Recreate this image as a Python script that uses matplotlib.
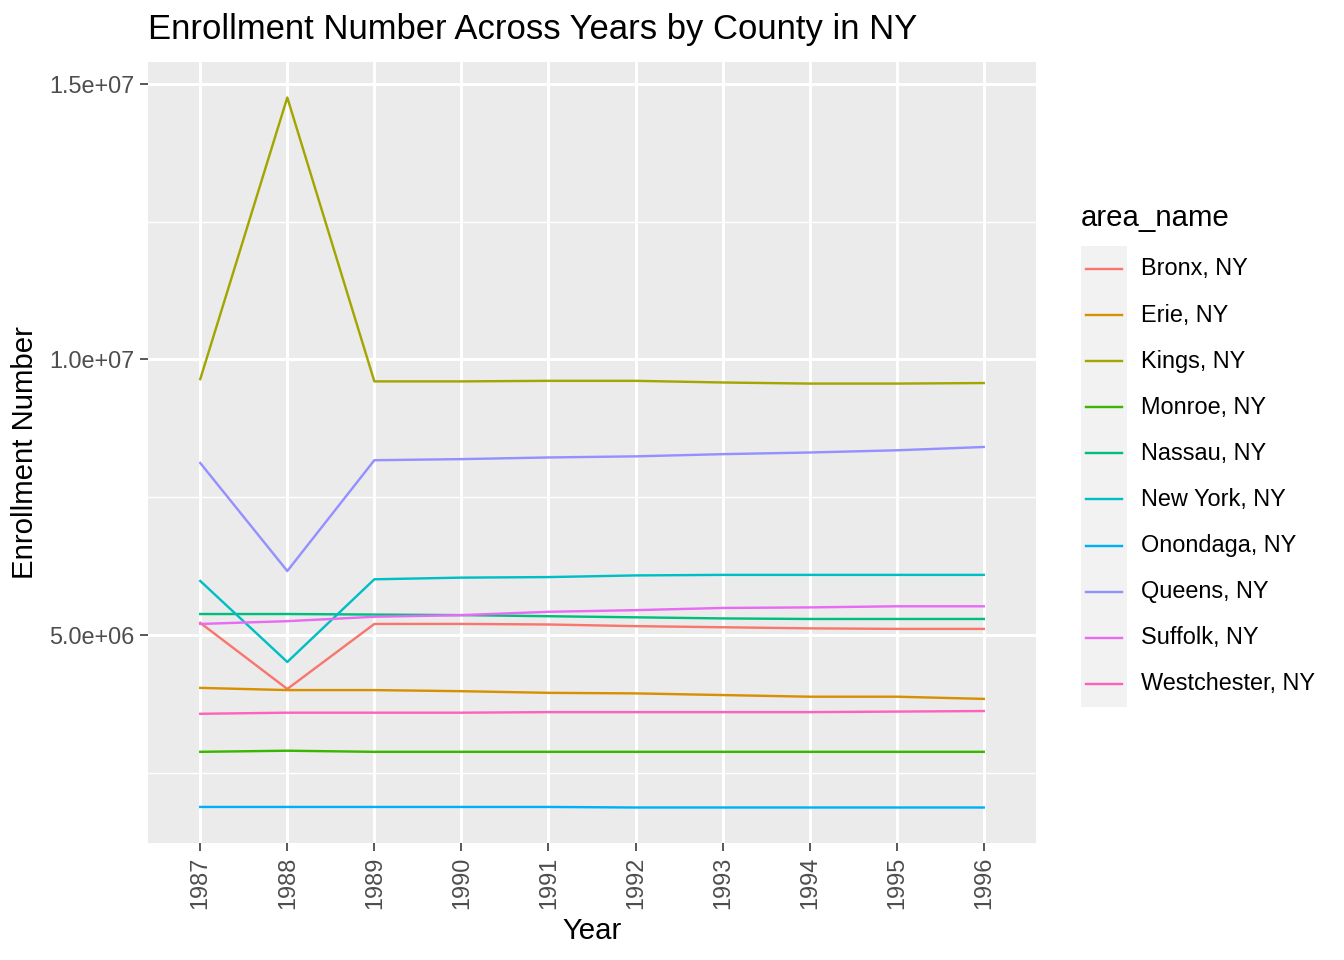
import matplotlib.pyplot as plt
from matplotlib.patches import Rectangle
from matplotlib.lines import Line2D
from matplotlib.ticker import FixedLocator

plt.rcParams['font.family'] = ['Liberation Sans', 'DejaVu Sans']

years = list(range(1987, 1997))
counties = ["Bronx, NY", "Erie, NY", "Kings, NY", "Monroe, NY", "Nassau, NY",
            "New York, NY", "Onondaga, NY", "Queens, NY", "Suffolk, NY", "Westchester, NY"]
colors = ["#F8766D", "#D89000", "#A3A500", "#39B600", "#00BF7D",
          "#00BFC4", "#00B0F6", "#9590FF", "#E76BF3", "#FF62BC"]

bronx = [5.22e6, 4.02e6, 5.20e6, 5.20e6, 5.19e6, 5.16e6, 5.14e6, 5.12e6, 5.11e6, 5.11e6]
erie = [4.04e6, 4.00e6, 4.00e6, 3.98e6, 3.95e6, 3.94e6, 3.91e6, 3.88e6, 3.88e6, 3.84e6]
kings = [9.64e6, 14.75e6, 9.60e6, 9.60e6, 9.61e6, 9.61e6, 9.58e6, 9.56e6, 9.56e6, 9.57e6]
monroe = [2.88e6, 2.90e6, 2.88e6, 2.88e6, 2.88e6, 2.88e6, 2.88e6, 2.88e6, 2.88e6, 2.88e6]
nassau = [5.38e6, 5.38e6, 5.37e6, 5.36e6, 5.34e6, 5.32e6, 5.30e6, 5.29e6, 5.29e6, 5.29e6]
new_york = [5.98e6, 4.51e6, 6.01e6, 6.04e6, 6.05e6, 6.08e6, 6.09e6, 6.09e6, 6.09e6, 6.09e6]
onondaga = [1.88e6, 1.88e6, 1.88e6, 1.88e6, 1.88e6, 1.87e6, 1.87e6, 1.87e6, 1.87e6, 1.87e6]
queens = [8.12e6, 6.16e6, 8.17e6, 8.19e6, 8.22e6, 8.24e6, 8.28e6, 8.31e6, 8.35e6, 8.41e6]
suffolk = [5.20e6, 5.25e6, 5.33e6, 5.36e6, 5.42e6, 5.45e6, 5.49e6, 5.50e6, 5.52e6, 5.52e6]
westchester = [3.57e6, 3.59e6, 3.59e6, 3.59e6, 3.60e6, 3.60e6, 3.60e6, 3.60e6, 3.61e6, 3.62e6]

series = [bronx, erie, kings, monroe, nassau, new_york, onondaga, queens, suffolk, westchester]

W, H = 1344, 960
fig = plt.figure(figsize=(7, 5), dpi=192)

def fx(px):
    return px / W

def fy(py):
    return 1 - py / H

ax = fig.add_axes([fx(148), fy(843), fx(1036) - fx(148), fy(62) - fy(843)])
ax.set_facecolor("#EBEBEB")
for s in ax.spines.values():
    s.set_visible(False)

for vals, c in zip(series, colors):
    ax.plot(years, vals, color=c, lw=0.9, zorder=3)

ymin = min(min(v) for v in series)
ymax = max(max(v) for v in series)
pad = (ymax - ymin) * 0.05
ax.set_ylim(ymin - pad, ymax + pad)
ax.set_xlim(1987 - 0.6, 1996 + 0.6)

ax.set_xticks(years)
ax.set_xticklabels([str(y) for y in years], rotation=90)
ax.set_yticks([5e6, 1e7, 1.5e7])
ax.set_yticklabels(["5.0e+06", "1.0e+07", "1.5e+07"])
ax.yaxis.set_minor_locator(FixedLocator([2.5e6, 7.5e6, 12.5e6]))
ax.grid(True, which="major", color="white", lw=1.1, zorder=1)
ax.grid(True, which="minor", axis="y", color="white", lw=0.55, zorder=1)
ax.tick_params(axis="both", which="major", length=3, width=0.6, color="#333333",
               labelsize=8.8, labelcolor="#4D4D4D", pad=2)
ax.tick_params(axis="y", which="minor", length=0)

ax.set_xlabel("Year", fontsize=11, labelpad=3)
ax.set_ylabel("Enrollment Number", fontsize=11, labelpad=4)

fig.text(fx(148), fy(30), "Enrollment Number Across Years by County in NY",
         fontsize=13.0, ha="left", va="center")

# legend drawn by hand, ggplot style
fig.text(fx(1081), fy(218), "area_name", fontsize=11, ha="left", va="center")
step = 46.1
top = 246
fig.patches.append(Rectangle((fx(1081), fy(top + step * len(counties))), fx(1127) - fx(1081),
                             step * len(counties) / H, transform=fig.transFigure,
                             facecolor="#F2F2F2", edgecolor="none"))
for i, (name, c) in enumerate(zip(counties, colors)):
    yc = 269 + step * i
    fig.lines.append(Line2D([fx(1086), fx(1122)], [fy(yc), fy(yc)], color=c, lw=0.9,
                            transform=fig.transFigure))
    fig.text(fx(1141), fy(yc), name, fontsize=8.8, ha="left", va="center")

fig.savefig("out.png", dpi=192)
